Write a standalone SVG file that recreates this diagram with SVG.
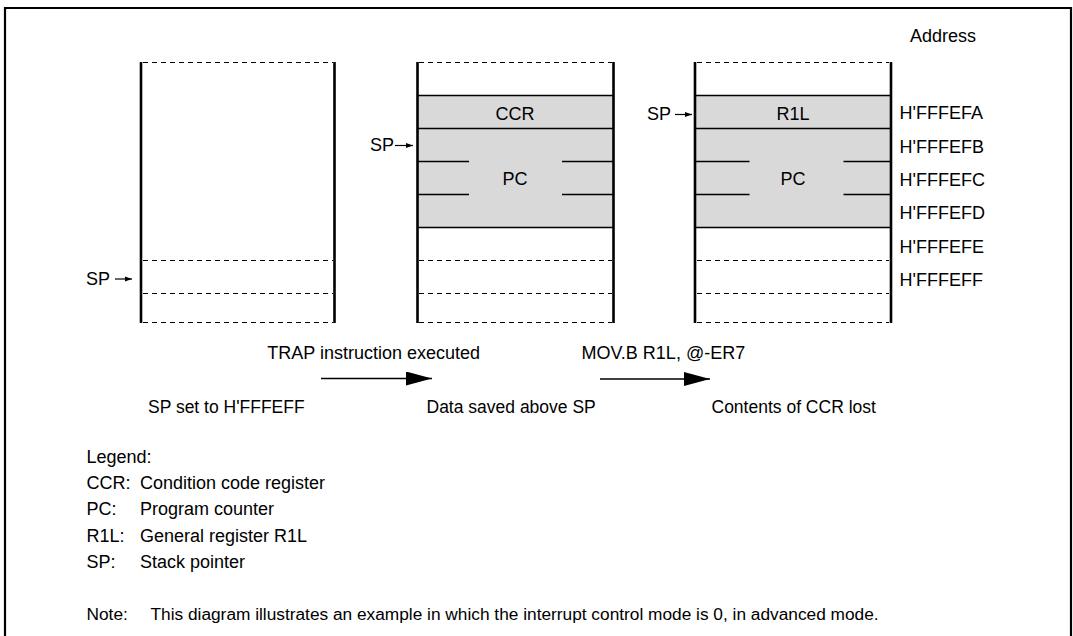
<svg xmlns="http://www.w3.org/2000/svg" width="1073" height="636" viewBox="0 0 1073 636">
<style>
text{font-family:"Liberation Sans",Arial,sans-serif;font-size:18px;fill:#000}
.mid{text-anchor:middle}
.cap{font-size:17.5px}
.note{font-size:17.3px}
.wall{stroke:#000;stroke-width:2.6;fill:none}
.solid{stroke:#000;stroke-width:1.3;fill:none}
.dash{stroke:#000;stroke-width:1.2;stroke-dasharray:5 4;fill:none}
.fill{fill:#d9d9d9;stroke:none}
.sp{stroke:#000;stroke-width:1.2;fill:none}
.big{stroke:#000;stroke-width:1.5;fill:none}
</style>
<defs>
<marker id="sa" markerWidth="7" markerHeight="6" refX="7" refY="3" orient="auto" markerUnits="userSpaceOnUse"><path d="M0,0.5 L7,3 L0,5.5 Z" fill="#000"/></marker>
<marker id="ba" markerWidth="26" markerHeight="14" refX="26" refY="7" orient="auto" markerUnits="userSpaceOnUse"><path d="M0,0 L26,7 L0,14 Z" fill="#000"/></marker>
</defs>
<rect width="1073" height="636" fill="#fff"/>
<path d="M5,637 V8 H1071 V637" fill="none" stroke="#000" stroke-width="2.2"/>

<g id="stack1">
<line class="dash" x1="143" y1="62.5" x2="333" y2="62.5"/>
<line class="dash" x1="143" y1="260.5" x2="333" y2="260.5"/>
<line class="dash" x1="143" y1="293.5" x2="333" y2="293.5"/>
<line class="dash" x1="143" y1="322.5" x2="333" y2="322.5"/>
<line class="wall" x1="141" y1="62" x2="141" y2="323"/>
<line class="wall" x1="334.5" y1="62" x2="334.5" y2="323"/>
<text x="86" y="285">SP</text>
<line class="sp" x1="115" y1="279" x2="132" y2="279" marker-end="url(#sa)"/>
</g>

<g id="stack2">
<rect class="fill" x="417.5" y="95.5" width="196" height="132"/>
<line class="dash" x1="419" y1="62.5" x2="612" y2="62.5"/>
<line class="solid" x1="417.5" y1="95.5" x2="613.5" y2="95.5"/>
<line class="solid" x1="417.5" y1="128.5" x2="613.5" y2="128.5"/>
<line class="solid" x1="417.5" y1="161.5" x2="469" y2="161.5"/>
<line class="solid" x1="562" y1="161.5" x2="613.5" y2="161.5"/>
<line class="solid" x1="417.5" y1="194.5" x2="469" y2="194.5"/>
<line class="solid" x1="562" y1="194.5" x2="613.5" y2="194.5"/>
<line class="solid" x1="417.5" y1="227.5" x2="613.5" y2="227.5"/>
<line class="dash" x1="419" y1="260.5" x2="612" y2="260.5"/>
<line class="dash" x1="419" y1="293.5" x2="612" y2="293.5"/>
<line class="dash" x1="419" y1="322.5" x2="612" y2="322.5"/>
<line class="wall" x1="417.5" y1="62" x2="417.5" y2="323"/>
<line class="wall" x1="613.5" y1="62" x2="613.5" y2="323"/>
<text class="mid" x="515" y="120">CCR</text>
<text class="mid" x="515" y="185">PC</text>
<text x="394" y="151" text-anchor="end">SP</text>
<line class="sp" x1="395" y1="145.5" x2="413" y2="145.5" marker-end="url(#sa)"/>
</g>

<g id="stack3">
<rect class="fill" x="695" y="95.5" width="196" height="132"/>
<line class="dash" x1="697" y1="62.5" x2="889" y2="62.5"/>
<line class="solid" x1="695" y1="95.5" x2="891" y2="95.5"/>
<line class="solid" x1="695" y1="128.5" x2="891" y2="128.5"/>
<line class="solid" x1="695" y1="161.5" x2="749.5" y2="161.5"/>
<line class="solid" x1="843.5" y1="161.5" x2="891" y2="161.5"/>
<line class="solid" x1="695" y1="194.5" x2="749.5" y2="194.5"/>
<line class="solid" x1="843.5" y1="194.5" x2="891" y2="194.5"/>
<line class="solid" x1="695" y1="227.5" x2="891" y2="227.5"/>
<line class="dash" x1="697" y1="260.5" x2="889" y2="260.5"/>
<line class="dash" x1="697" y1="293.5" x2="889" y2="293.5"/>
<line class="dash" x1="697" y1="322.5" x2="889" y2="322.5"/>
<line class="wall" x1="695" y1="62" x2="695" y2="323"/>
<line class="wall" x1="891" y1="62" x2="891" y2="323"/>
<text class="mid" x="793" y="120">R1L</text>
<text class="mid" x="793" y="185">PC</text>
<text x="647" y="120">SP</text>
<line class="sp" x1="675" y1="114.5" x2="692" y2="114.5" marker-end="url(#sa)"/>
</g>

<g id="addresses">
<text x="910" y="41.5">Address</text>
<text x="899.5" y="119.3">H'FFFEFA</text>
<text x="899.5" y="152.7">H'FFFEFB</text>
<text x="899.5" y="186">H'FFFEFC</text>
<text x="899.5" y="219.3">H'FFFEFD</text>
<text x="899.5" y="252.7">H'FFFEFE</text>
<text x="899.5" y="286">H'FFFEFF</text>
</g>

<g id="connectors">
<line class="big" x1="321" y1="378.5" x2="432" y2="378.5" marker-end="url(#ba)"/>
<line class="big" x1="600" y1="379" x2="710" y2="379" marker-end="url(#ba)"/>
</g>

<g id="captions">
<text x="480" y="359" text-anchor="end">TRAP instruction executed</text>
<text x="581.5" y="359">MOV.B R1L, @-ER7</text>
<text class="cap" x="148" y="413">SP set to H'FFFEFF</text>
<text class="cap" x="426.5" y="413">Data saved above SP</text>
<text class="cap" x="711.5" y="413">Contents of CCR lost</text>
</g>

<g id="legend">
<text x="86.5" y="463.3">Legend:</text>
<text x="86.5" y="489.3">CCR:</text><text x="140" y="489.3">Condition code register</text>
<text x="86.5" y="515.3">PC:</text><text x="140" y="515.3">Program counter</text>
<text x="86.5" y="541.7">R1L:</text><text x="140" y="541.7">General register R1L</text>
<text x="86.5" y="568">SP:</text><text x="140" y="568">Stack pointer</text>
<text class="note" x="86.5" y="620">Note:</text><text class="note" x="150.5" y="620">This diagram illustrates an example in which the interrupt control mode is 0, in advanced mode.</text>
</g>
</svg>
